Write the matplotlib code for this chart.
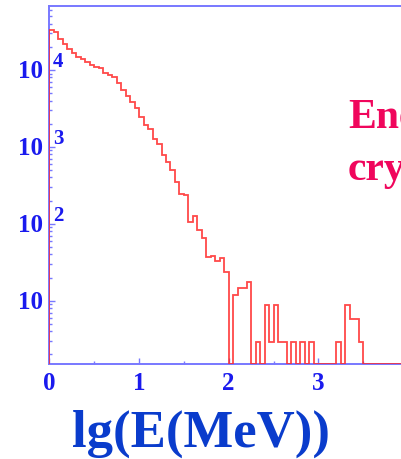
import numpy as np
import matplotlib
matplotlib.use("Agg")
import matplotlib.pyplot as plt
from matplotlib.ticker import MultipleLocator, LogLocator, NullFormatter

# energy spectrum, 0.05 wide bins in lg(E/MeV)
bin_width = 0.05
counts = [
    33100, 30900, 25100, 21800, 18700, 16500, 14600, 13800, 12800, 11600,   # 0.0 - 0.5
    11000, 10500, 9230, 8610, 8180, 6710, 5500, 4590, 3800, 3180,           # 0.5 - 1.0
    2450, 1930, 1690, 1260, 1080, 785, 643, 501, 353, 244,                  # 1.0 - 1.5
    237, 106, 127, 84, 65, 36.6, 38.5, 33, 36, 23.6,                        # 1.5 - 2.0
    0, 11.7, 14.7, 14.7, 17.6, 0, 2.93, 0, 8.8, 2.93,                       # 2.0 - 2.5
    8.8, 2.93, 2.93, 0, 2.93, 0, 2.93, 0, 2.93, 0,                          # 2.5 - 3.0
    0, 0, 0, 0, 2.93, 0, 8.8, 5.86, 5.86, 2.93,                             # 3.0 - 3.5
    0, 0, 0, 0, 0, 0, 0, 0, 0, 0,                                           # 3.5 - 4.0
]
y_major = [10, 100, 1000, 10000]
y_exponents = ["", "2", "3", "4"]
x_label = "lg(E(MeV))"
side_lines = ["Ene", "cry"]

YMIN, YMAX = 1.5, 6.8e4
TICK_BLUE = "#1a1aee"
AXIS_BLUE = "#7878ff"
SERIF = "Liberation Serif"

counts = np.asarray(counts, dtype=float)
edges = np.arange(len(counts) + 1) * bin_width

W, H = 402, 459
fig = plt.figure(figsize=(W / 100, H / 100), dpi=100)
fig.patch.set_facecolor("white")
# frame runs off the right side of the canvas
ax = fig.add_axes([49.5 / W, (H - 364) / H, 5 * 89.6 / W, 358 / H])

# empty bins sit on the frame floor, like ROOT draws them
ax.stairs(np.clip(counts, YMIN, None), edges, baseline=YMIN, fill=False,
          color="#ff2a2a", lw=1.3, alpha=0.85, zorder=3)

ax.set_yscale("log")
ax.set_ylim(YMIN, YMAX)
ax.set_xlim(0, 5)

for s in ax.spines.values():
    s.set_color(AXIS_BLUE)
    s.set_linewidth(1.4)
ax.spines["right"].set_visible(False)

ax.xaxis.set_major_locator(MultipleLocator(1))
ax.xaxis.set_minor_locator(MultipleLocator(0.5))
ax.yaxis.set_major_locator(LogLocator(base=10, numticks=10))
ax.yaxis.set_minor_locator(LogLocator(base=10, subs=np.arange(2, 10), numticks=20))
ax.yaxis.set_major_formatter(NullFormatter())
ax.yaxis.set_minor_formatter(NullFormatter())
ax.tick_params(which="both", direction="in", color=AXIS_BLUE, width=1.0,
               top=False, right=False)
ax.tick_params(which="major", length=4.3)
ax.tick_params(which="minor", length=2.2)
ax.tick_params(axis="x", which="major", pad=5.5, labelsize=18, labelcolor=TICK_BLUE)
for lab in ax.get_xticklabels():
    lab.set_fontfamily(SERIF)
    lab.set_fontweight("bold")

# ROOT-style "10" with the exponent tucked past the axis line
for v, e in zip(y_major, y_exponents):
    ax.annotate("10", xy=(0, v), xycoords=("axes fraction", "data"),
                xytext=(-6.5, -1.5), textcoords="offset pixels",
                ha="right", va="center", fontsize=18, fontweight="bold",
                family=SERIF, color=TICK_BLUE)
    if e:
        ax.annotate(e, xy=(0, v), xycoords=("axes fraction", "data"),
                    xytext=(3.5, 3), textcoords="offset pixels",
                    ha="left", va="baseline", fontsize=15, fontweight="bold",
                    family=SERIF, color=TICK_BLUE)

fig.text(201 / W, (H - 447) / H, x_label, ha="center", va="baseline",
         fontsize=38, fontweight="bold", family=SERIF, color="#0a3ccc")

fig.text(348 / W, (H - 128) / H, side_lines[0], ha="left", va="baseline",
         fontsize=30, fontweight="bold", family=SERIF, color="#f0065c")
fig.text(348 / W, (H - 180) / H, side_lines[1], ha="left", va="baseline",
         fontsize=30, fontweight="bold", family=SERIF, color="#f0065c")

fig.savefig("out.png", dpi=100)
